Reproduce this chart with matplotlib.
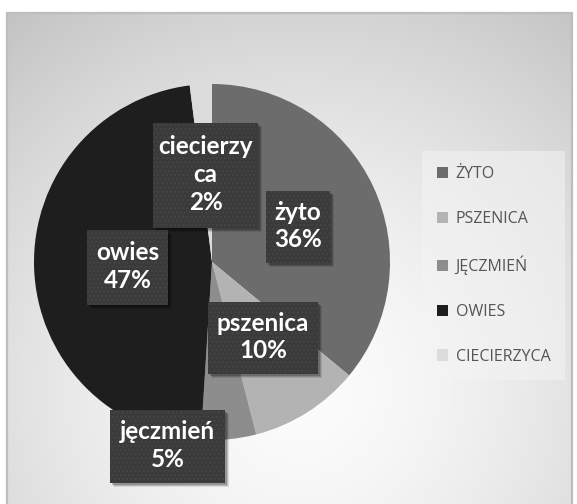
import numpy as np
import matplotlib
matplotlib.use("Agg")
import matplotlib.pyplot as plt
from matplotlib.patches import Rectangle, Patch

# ---- data ----
categories = ["żyto", "pszenica", "jęczmień", "owies", "ciecierzyca"]
legend_labels = ["ŻYTO", "PSZENICA", "JĘCZMIEŃ", "OWIES", "CIECIERZYCA"]
values = [36, 10, 5, 47, 2]
label_lines = ["żyto", "pszenica", "jęczmień", "owies", "ciecierzy\nca"]
colors = ["#6c6c6c", "#b3b3b3", "#8d8d8d", "#1e1e1e", "#dcdcdc"]

W, H = 577, 504
fig = plt.figure(figsize=(W / 100, H / 100), dpi=100)
ax = fig.add_axes([0, 0, 1, 1])
ax.set_xlim(0, W)
ax.set_ylim(0, H)
ax.set_aspect("equal")
ax.axis("off")

# background gradient inside chart frame
fx0, fx1, fy0 = 7, 572, 13
yy, xx = np.mgrid[0:H, 0:W]
d = np.hypot(xx - 300, yy - 115)
v = 0.99 - 0.23 * np.clip(d / 480, 0, 1.3) ** 1.5
img = np.dstack([v, v, v])
ax.imshow(img, extent=(0, W, H, 0), origin="upper", zorder=0)
ax.add_patch(Rectangle((0, H - fy0), W, fy0, facecolor="white", edgecolor="none", zorder=0.6))
ax.add_patch(Rectangle((0, 0), fx0, H, facecolor="white", edgecolor="none", zorder=0.6))
ax.add_patch(Rectangle((fx1, 0), W - fx1, H, facecolor="white", edgecolor="none", zorder=0.6))
ax.add_patch(Rectangle((fx0, -10), fx1 - fx0, H - fy0 + 10, facecolor="none",
                       edgecolor="#bdbdbd", lw=1.6, zorder=0.7))

# pie
cx, cy, r = 212, H - 262, 178
ax.pie(values, colors=colors, startangle=90, counterclock=False,
       center=(cx, cy), radius=r, frame=True,
       wedgeprops=dict(linewidth=0, zorder=2))
ax.set_xlim(0, W)
ax.set_ylim(0, H)
ax.axis("off")

# label boxes (layout positions in pixels: x0, x1, ytop, ybottom)
boxes = [(266, 330, 191, 263), (208, 318, 302, 374), (110, 225, 410, 483),
         (87, 168, 230, 305), (153, 258, 123, 228)]
for cat, lines, val, (x0, x1, yt, yb) in zip(categories, label_lines, values, boxes):
    bw, bh = x1 - x0, yb - yt
    for k, a in [(4, 0.10), (3, 0.15), (2, 0.2)]:
        ax.add_patch(Rectangle((x0 + k, H - yb - k), bw, bh, facecolor="black",
                               edgecolor="none", alpha=a, zorder=5))
    ax.add_patch(Rectangle((x0, H - yb), bw, bh, facecolor="#3a3a3a",
                           edgecolor="#454545", hatch="....", lw=0, zorder=6))
    ax.text((x0 + x1) / 2, H - (yt + yb) / 2 + 1, f"{lines}\n{val}%", ha="center", va="center",
            color="white", fontsize=17.5, fontweight="bold", family="Lato",
            linespacing=1.25, zorder=7)

# legend
handles = [Patch(facecolor=c, edgecolor="none") for c in colors]
leg = ax.legend(handles, legend_labels, loc="upper left",
                bbox_to_anchor=(422 / W, 1 - 151 / H), borderaxespad=0,
                frameon=True, fancybox=False, framealpha=0.55, facecolor="#f4f4f4",
                edgecolor="none", prop=dict(family="Open Sans", size=11.5),
                labelspacing=1.8, handlelength=0.7, handleheight=0.7,
                handletextpad=0.45, borderpad=0.95)
for t in leg.get_texts():
    t.set_color("#555555")

fig.savefig("out.png", dpi=100)
